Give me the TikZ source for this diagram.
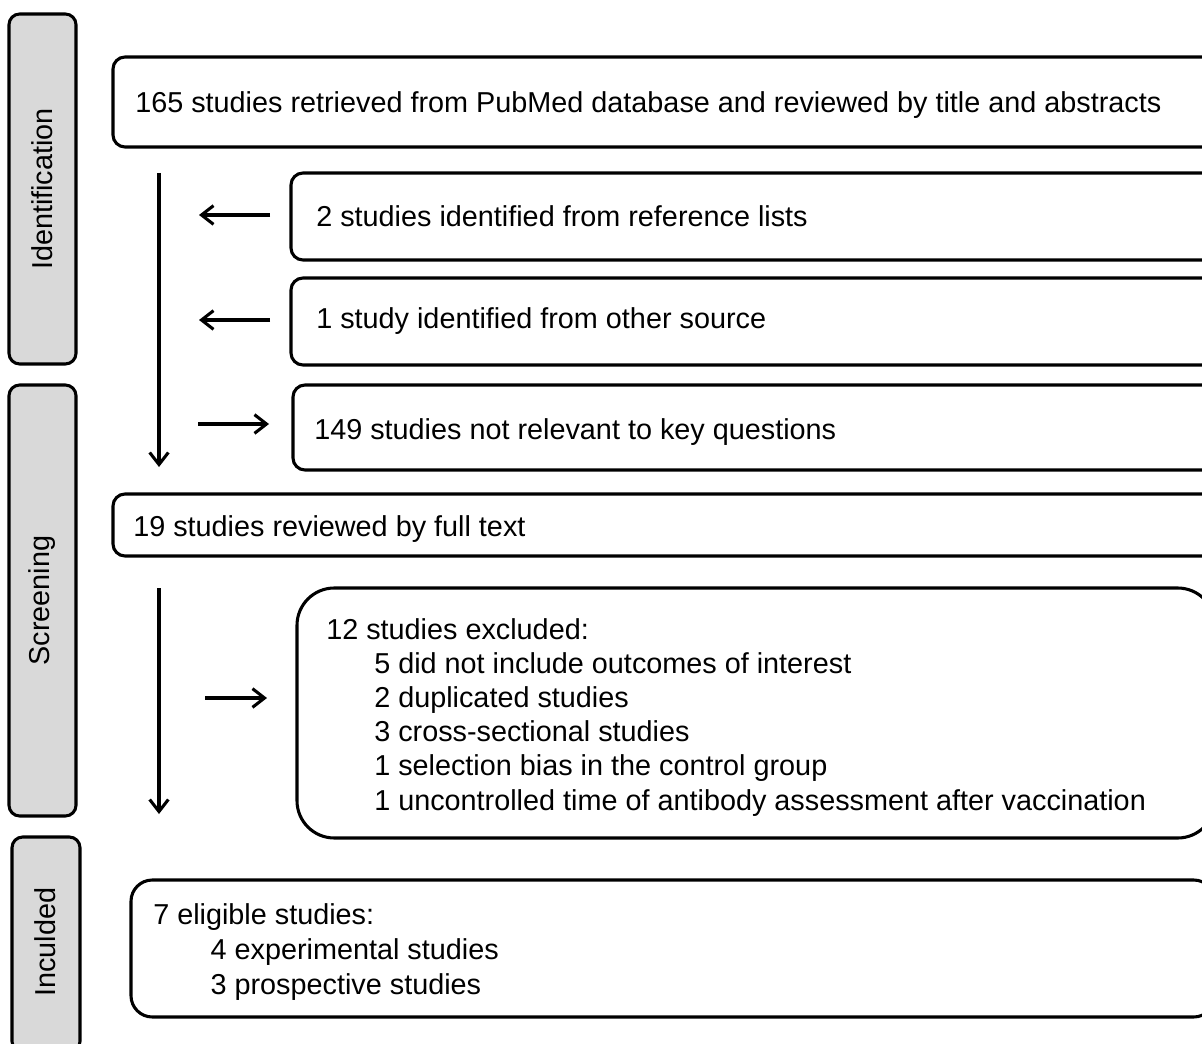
\documentclass[tikz,border=0pt]{standalone}
\usepackage{fontspec}
\setmainfont{Liberation Sans}
\usetikzlibrary{arrows.meta,fit}
\begin{document}
\begin{tikzpicture}[x=0.75pt,y=-0.75pt,
  box/.style={draw=black,line width=2.3pt,rounded corners=9pt,inner sep=0pt},
  panel/.style={draw=black,fill=panelgray,line width=2.3pt,rounded corners=8pt,inner sep=0pt},
  txt/.style={inner sep=0pt,anchor=west,align=left,font=\fontsize{21.6}{25.65}\selectfont},
  side/.style={inner sep=0pt,rotate=90,font=\fontsize{21.6}{24}\selectfont},
  arr/.style={line width=2.3pt,-{Straight Barb[length=9pt,width=14pt]}}]
\definecolor{panelgray}{HTML}{D9D9D9}
\clip (0,0) rectangle (1202,1044);
\path[use as bounding box] (0,0) rectangle (1202,1044);
% side panels
\node[panel,fit={(9,14) (76,364)}] (pid) {};
\node[side] (lid) at (pid.center) {Identification};
\node[panel,fit={(9,385) (76,816)}] (psc) {};
\node[side] (lsc) at (psc.center) {Screening};
\node[panel,fit={(12,837) (80,1052)}] (pin) {};
\node[side] (lin) at (45,942) {Inculded};
% boxes
\node[box,fit={(113,57) (1215,147)}] (b1) {};
\node[txt] (t1) at (135,105) {165 studies retrieved from PubMed database and reviewed by title and abstracts};
\node[box,fit={(291,173) (1215,260)}] (b2) {};
\node[txt] (t2) at (316,216) {2 studies identified from reference lists};
\node[box,fit={(291,278) (1215,365)}] (b3) {};
\node[txt] (t3) at (316,321) {1 study identified from other source};
\node[box,fit={(293,385) (1215,470)}] (b4) {};
\node[txt] (t4) at (314,432) {149 studies not relevant to key questions};
\node[box,fit={(113,494) (1215,556)}] (b5) {};
\node[txt] (t5) at (133,529) {19 studies reviewed by full text};
\node[box,rounded corners=28pt,fit={(297,588) (1215,838)}] (b6) {};
\node[txt,anchor=north west] (t6) at (326,618) {12 studies excluded:\\
\hspace*{36pt}5 did not include outcomes of interest\\
\hspace*{36pt}2 duplicated studies\\
\hspace*{36pt}3 cross-sectional studies\\
\hspace*{36pt}1 selection bias in the control group\\
\hspace*{36pt}1 uncontrolled time of antibody assessment after vaccination};
\node[box,rounded corners=16pt,fit={(131,880) (1215,1017)}] (b7) {};
\node[txt,anchor=north west,font=\fontsize{21.6}{26.2}\selectfont] (t7) at (153,903) {7 eligible studies:\\
\hspace*{43pt}4 experimental studies\\
\hspace*{43pt}3 prospective studies};
% arrow end points
\coordinate (v1s) at (159,173);
\coordinate (v1e) at (159,467);
\coordinate (l1s) at (270,215);
\coordinate (l1e) at (199,215);
\coordinate (l2s) at (270,320);
\coordinate (l2e) at (199,320);
\coordinate (r1s) at (198,424);
\coordinate (r1e) at (269,424);
\coordinate (v2s) at (159,588);
\coordinate (v2e) at (159,814);
\coordinate (r2s) at (205,698);
\coordinate (r2e) at (267,698);
\draw[arr] (v1s) -- (v1e);
\draw[arr] (l1s) -- (l1e);
\draw[arr] (l2s) -- (l2e);
\draw[arr] (r1s) -- (r1e);
\draw[arr] (v2s) -- (v2e);
\draw[arr] (r2s) -- (r2e);
\end{tikzpicture}
\end{document}
